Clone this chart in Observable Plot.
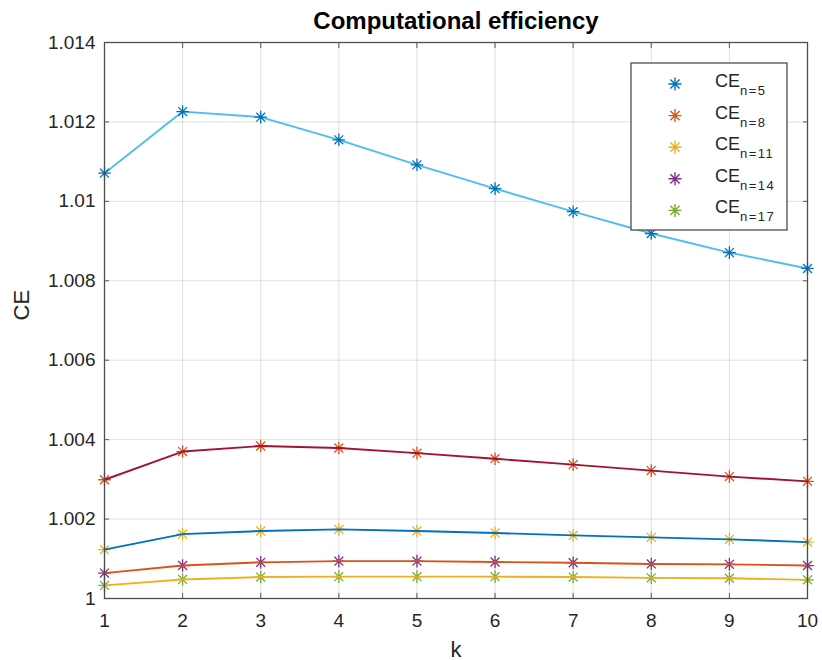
<!DOCTYPE html>
<html>
<head>
<meta charset="utf-8">
<script src="https://cdn.jsdelivr.net/npm/d3@7"></script>
<script src="https://cdn.jsdelivr.net/npm/@observablehq/plot@0.6"></script>
<style>
  html, body { margin: 0; padding: 0; background: #fff; }
  #chart { width: 822px; height: 660px; }
  svg { font-family: "Liberation Sans", Arial, sans-serif; }
</style>
</head>
<body>
<div id="chart"></div>
<script>
// ---- data ----
const k = [1, 2, 3, 4, 5, 6, 7, 8, 9, 10];
const ce5  = [1.01071, 1.01226, 1.01212, 1.01155, 1.01092, 1.01032, 1.00974, 1.00919, 1.00871, 1.00831];
const ce8  = [1.00299, 1.00370, 1.00384, 1.00379, 1.00366, 1.00352, 1.00337, 1.00322, 1.00307, 1.00295];
const ce11 = [1.00123, 1.00162, 1.00170, 1.00174, 1.00170, 1.00165, 1.00159, 1.00154, 1.00149, 1.00142];
const ce14 = [1.00064, 1.00083, 1.00091, 1.00094, 1.00094, 1.00092, 1.00090, 1.00087, 1.00086, 1.00083];
const ce17 = [1.00033, 1.00048, 1.00054, 1.00055, 1.00055, 1.00055, 1.00054, 1.00052, 1.00051, 1.00047];
const seriesNames = ["n=5", "n=8", "n=11", "n=14", "n=17"];
const seriesValues = [ce5, ce8, ce11, ce14, ce17];
const lineColors   = ["#4DBEEE", "#A2142F", "#0072BD", "#D95319", "#EDB120"];
const markerColors = ["#0072BD", "#D95319", "#EDB120", "#7E2F8E", "#77AC30"];
const xTicks = [1, 2, 3, 4, 5, 6, 7, 8, 9, 10];
const yTicks = [1, 1.002, 1.004, 1.006, 1.008, 1.010, 1.012, 1.014];
const titleText = "Computational efficiency";
const xLabel = "k";
const yLabel = "CE";

// ---- build table ----
const rows = [];
seriesNames.forEach((s, i) => {
  k.forEach((kk, j) => rows.push({series: s, idx: i, k: kk, ce: seriesValues[i][j]}));
});

// 8-spoke asterisk (MATLAB '*')
const star8 = {
  draw(ctx, size) {
    const r = Math.sqrt(size / Math.PI);
    const d = r * 0.7071;
    ctx.moveTo(-r, 0); ctx.lineTo(r, 0);
    ctx.moveTo(0, -r); ctx.lineTo(0, r);
    ctx.moveTo(-d, -d); ctx.lineTo(d, d);
    ctx.moveTo(-d, d); ctx.lineTo(d, -d);
  }
};

const textColor = "#262626";
const fmtY = d => String(+d.toFixed(3));

const lineMark = i => Plot.line(rows.filter(r => r.idx === i), {
  x: "k", y: "ce", stroke: lineColors[i], strokeWidth: 1.9
});

const chart = Plot.plot({
  width: 822,
  height: 660,
  marginLeft: 104,
  marginRight: 15,
  marginTop: 42,
  marginBottom: 62,
  style: {fontFamily: '"Liberation Sans", Arial, sans-serif', background: "#fff"},
  x: {domain: [1, 10]},
  y: {domain: [1, 1.014]},
  marks: [
    Plot.gridX(xTicks, {stroke: "#000", strokeOpacity: 0.12}),
    Plot.gridY(yTicks, {stroke: "#000", strokeOpacity: 0.12}),
    // inward tick marks on all four sides
    Plot.axisX(xTicks, {anchor: "bottom", tickSize: 5, dy: -5, text: null, label: null, stroke: "#555"}),
    Plot.axisX(xTicks, {anchor: "top", tickSize: 5, dy: 5, text: null, label: null, stroke: "#555"}),
    Plot.axisY(yTicks, {anchor: "left", tickSize: 5, dx: 5, text: null, label: null, stroke: "#555"}),
    Plot.axisY(yTicks, {anchor: "right", tickSize: 5, dx: -5, text: null, label: null, stroke: "#555"}),
    // tick labels
    Plot.axisX(xTicks, {anchor: "bottom", tickSize: 0, tickPadding: 15, label: null, fontSize: 19, fill: textColor}),
    Plot.axisY(yTicks, {anchor: "left", tickSize: 0, tickPadding: 9, label: null, fontSize: 19, fill: textColor, tickFormat: fmtY}),
    lineMark(0),
    Plot.dot(rows, {
      x: "k", y: "ce", symbol: star8, r: 6.3, fill: "none",
      stroke: d => markerColors[d.idx], strokeWidth: 1.3
    }),
    lineMark(1), lineMark(2), lineMark(3), lineMark(4),
    Plot.frame({stroke: "#4d4d4d", strokeWidth: 1.3}),
    Plot.text([titleText], {frameAnchor: "top", dy: -14, lineAnchor: "bottom", fontSize: 24, fontWeight: "bold", fill: "#000"}),
    Plot.text([xLabel], {frameAnchor: "bottom", dy: 58, lineAnchor: "bottom", fontSize: 22, fill: textColor}),
    Plot.text([yLabel], {frameAnchor: "left", dx: -83, rotate: -90, fontSize: 22, fill: textColor})
  ]
});

document.getElementById("chart").appendChild(chart);

// ---- legend (inside plot, top-right) ----
const svg = d3.select(chart);
const lgX = 631, lgY = 63, lgW = 156, lgH = 167;
const lg = svg.append("g");
lg.append("rect").attr("x", lgX).attr("y", lgY).attr("width", lgW).attr("height", lgH)
  .attr("fill", "#fff").attr("stroke", "#4d4d4d").attr("stroke-width", 1.3);
const rowY0 = lgY + 21, rowStep = 31.6;
seriesNames.forEach((s, i) => {
  const cy = rowY0 + i * rowStep;
  const p = d3.path();
  star8.draw(p, Math.PI * 6.5 * 6.5);
  lg.append("path").attr("d", p.toString())
    .attr("transform", `translate(${lgX + 44},${cy})`)
    .attr("fill", "none").attr("stroke", markerColors[i]).attr("stroke-width", 1.4);
  const t = lg.append("text").attr("x", lgX + 84).attr("y", cy + 3)
    .attr("text-anchor", "start")
    .attr("font-size", 18).attr("fill", textColor)
    .style("font-family", '"Liberation Sans", Arial, sans-serif');
  t.append("tspan").text("CE");
  t.append("tspan").attr("dy", 8).attr("font-size", 13)
    .attr("letter-spacing", 1.5).text(s);
});
</script>
</body>
</html>
